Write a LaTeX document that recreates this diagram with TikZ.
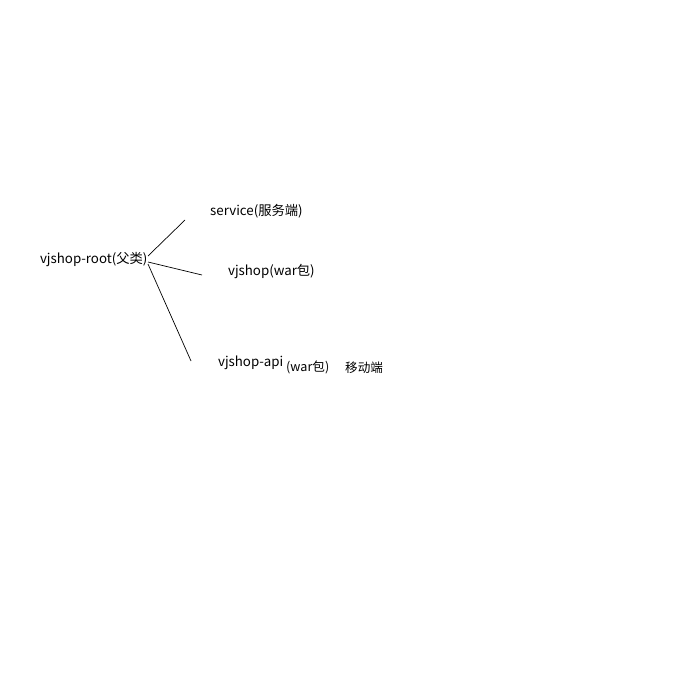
\documentclass[tikz,border=0pt]{standalone}
\usepackage{fontspec}
\setmainfont{Noto Sans CJK SC}
\begin{document}
\begin{tikzpicture}[x=1pt,y=-1pt,
  lbl/.style={inner sep=0pt,anchor=west,font=\fontsize{13.3}{15}\selectfont},
  sml/.style={inner sep=0pt,anchor=west,font=\fontsize{12.6}{14}\selectfont},
  conn/.style={draw,line width=0.7pt}]
\useasboundingbox[fill=white] (0,0) rectangle (700,700);
\node[lbl] (root) at (40,259.5) {vjshop-root(父类)};
\node[lbl] (svc) at (210,211.5) {service(服务端)};
\node[lbl] (vj) at (228,271.5) {vjshop(war包)};
\node[lbl] (api) at (218,362.5) {vjshop-api};
\node[sml] (apiw) at (286,367.5) {(war包)};
\node[sml] (mob) at (345,367.5) {移动端};
\coordinate (r1) at (148,256);
\coordinate (r2) at (148,262);
\coordinate (r3) at (148,264);
\coordinate (e1) at (185,220);
\coordinate (e2) at (202,275);
\coordinate (e3) at (191,361);
\draw[conn] (r1) -- (e1);
\draw[conn] (r2) -- (e2);
\draw[conn] (r3) -- (e3);
\end{tikzpicture}
\end{document}
